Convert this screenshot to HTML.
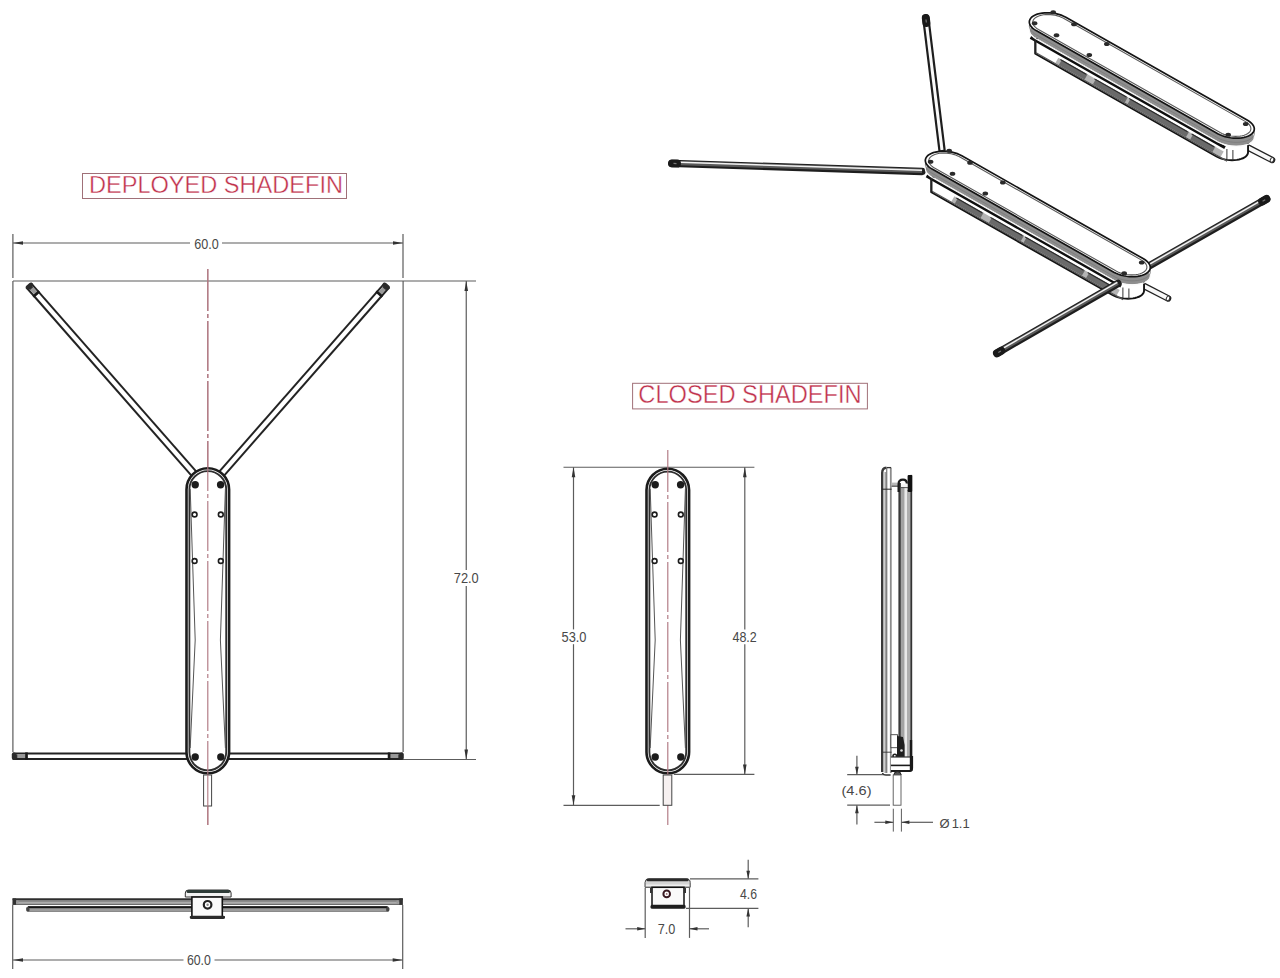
<!DOCTYPE html><html><head><meta charset="utf-8"><style>html,body{margin:0;padding:0;background:#fff;width:1280px;height:978px;overflow:hidden}svg{display:block}text{font-family:"Liberation Sans",sans-serif}</style></head><body>
<svg width="1280" height="978" viewBox="0 0 1280 978">
<rect width="1280" height="978" fill="#fff"/>
<rect x="82.5" y="173.5" width="264" height="25" fill="none" stroke="#a07078" stroke-width="1"/>
<text x="89.00" y="193.20" font-size="24.4" fill="#c0304a" text-anchor="start" textLength="254" lengthAdjust="spacingAndGlyphs" stroke="#fff" stroke-width="0.4">DEPLOYED SHADEFIN</text>
<rect x="632.6" y="383.3" width="234.8" height="25.6" fill="none" stroke="#a07078" stroke-width="1"/>
<text x="638.30" y="403.30" font-size="25.3" fill="#c0304a" text-anchor="start" textLength="223.4" lengthAdjust="spacingAndGlyphs" stroke="#fff" stroke-width="0.4">CLOSED SHADEFIN</text>
<line x1="12.90" y1="234.00" x2="12.90" y2="278.00" stroke="#5c5c5c" stroke-width="1.2" />
<line x1="403.00" y1="234.00" x2="403.00" y2="278.00" stroke="#5c5c5c" stroke-width="1.2" />
<line x1="13.00" y1="243.00" x2="190.00" y2="243.00" stroke="#5c5c5c" stroke-width="1.2" />
<line x1="222.00" y1="243.00" x2="403.00" y2="243.00" stroke="#5c5c5c" stroke-width="1.2" />
<path d="M13.00,243.00 L23.00,241.20 L23.00,244.80 Z" fill="#333"/>
<path d="M403.00,243.00 L393.00,244.80 L393.00,241.20 Z" fill="#333"/>
<text x="206.60" y="248.60" font-size="14.2" fill="#484848" text-anchor="middle" textLength="24.5" lengthAdjust="spacingAndGlyphs" >60.0</text>
<line x1="13.00" y1="281.00" x2="476.00" y2="281.00" stroke="#5c5c5c" stroke-width="1.2" />
<line x1="466.25" y1="281.00" x2="466.25" y2="570.00" stroke="#5c5c5c" stroke-width="1.2" />
<line x1="466.25" y1="586.00" x2="466.25" y2="759.50" stroke="#5c5c5c" stroke-width="1.2" />
<path d="M466.25,281.00 L468.05,291.00 L464.45,291.00 Z" fill="#333"/>
<path d="M466.25,759.50 L464.45,749.50 L468.05,749.50 Z" fill="#333"/>
<text x="466.25" y="582.60" font-size="14.2" fill="#484848" text-anchor="middle" textLength="25" lengthAdjust="spacingAndGlyphs" >72.0</text>
<line x1="403.00" y1="759.50" x2="476.00" y2="759.50" stroke="#5c5c5c" stroke-width="1.2" />
<line x1="12.90" y1="281.00" x2="12.90" y2="752.00" stroke="#5c5c5c" stroke-width="1.2" />
<line x1="403.10" y1="281.00" x2="403.10" y2="752.00" stroke="#5c5c5c" stroke-width="1.2" />
<line x1="28.60" y1="285.20" x2="196.00" y2="476.00" stroke="#232323" stroke-width="8.2" stroke-linecap="butt"/>
<line x1="28.60" y1="285.20" x2="196.00" y2="476.00" stroke="#fff" stroke-width="4.199999999999999" />
<line x1="28.60" y1="285.20" x2="37.17" y2="294.97" stroke="#9a9a9a" stroke-width="4.199999999999999" />
<line x1="29.39" y1="286.10" x2="31.57" y2="288.58" stroke="#333" stroke-width="4.199999999999999" />
<line x1="35.46" y1="293.02" x2="37.17" y2="294.97" stroke="#1a1a1a" stroke-width="8.2" />
<rect x="-1.00" y="-4.10" width="4.5" height="8.20" rx="2" ry="2" fill="#2a2a2a" transform="translate(28.60,285.20) rotate(48.74)"/>
<line x1="387.00" y1="285.20" x2="219.60" y2="476.00" stroke="#232323" stroke-width="8.2" stroke-linecap="butt"/>
<line x1="387.00" y1="285.20" x2="219.60" y2="476.00" stroke="#fff" stroke-width="4.199999999999999" />
<line x1="387.00" y1="285.20" x2="378.43" y2="294.97" stroke="#9a9a9a" stroke-width="4.199999999999999" />
<line x1="386.21" y1="286.10" x2="384.03" y2="288.58" stroke="#333" stroke-width="4.199999999999999" />
<line x1="380.14" y1="293.02" x2="378.43" y2="294.97" stroke="#1a1a1a" stroke-width="8.2" />
<rect x="-1.00" y="-4.10" width="4.5" height="8.20" rx="2" ry="2" fill="#2a2a2a" transform="translate(387.00,285.20) rotate(131.26)"/>
<line x1="12.80" y1="756.20" x2="190.00" y2="756.20" stroke="#232323" stroke-width="7.6" stroke-linecap="butt"/>
<line x1="12.80" y1="756.20" x2="190.00" y2="756.20" stroke="#fff" stroke-width="3.5999999999999996" />
<line x1="12.80" y1="756.20" x2="27.80" y2="756.20" stroke="#9a9a9a" stroke-width="3.5999999999999996" />
<line x1="14.00" y1="756.20" x2="17.30" y2="756.20" stroke="#333" stroke-width="3.5999999999999996" />
<line x1="25.20" y1="756.20" x2="27.80" y2="756.20" stroke="#1a1a1a" stroke-width="7.6" />
<rect x="-1.00" y="-3.80" width="4.5" height="7.60" rx="2" ry="2" fill="#2a2a2a" transform="translate(12.80,756.20) rotate(0.00)"/>
<line x1="402.80" y1="756.20" x2="226.00" y2="756.20" stroke="#232323" stroke-width="7.6" stroke-linecap="butt"/>
<line x1="402.80" y1="756.20" x2="226.00" y2="756.20" stroke="#fff" stroke-width="3.5999999999999996" />
<line x1="402.80" y1="756.20" x2="387.80" y2="756.20" stroke="#9a9a9a" stroke-width="3.5999999999999996" />
<line x1="401.60" y1="756.20" x2="398.30" y2="756.20" stroke="#333" stroke-width="3.5999999999999996" />
<line x1="390.40" y1="756.20" x2="387.80" y2="756.20" stroke="#1a1a1a" stroke-width="7.6" />
<rect x="-1.00" y="-3.80" width="4.5" height="7.60" rx="2" ry="2" fill="#2a2a2a" transform="translate(402.80,756.20) rotate(180.00)"/>
<line x1="207.8" y1="269" x2="207.8" y2="825" stroke="#b07882" stroke-width="1.15" stroke-dasharray="50,3,4,3" stroke-dashoffset="8"/>
<rect x="186.50" y="468.20" width="42.60" height="305.10" rx="21.30" ry="21.30" fill="#fff" stroke="#1c1c1c" stroke-width="2.6"/>
<rect x="189.40" y="471.10" width="36.80" height="299.30" rx="18.40" ry="18.40" fill="none" stroke="#2e2e2e" stroke-width="1.8"/>
<path d="M190.20,489.00 L195.20,640.00 L190.20,748.00" fill="none" stroke="#555" stroke-width="1"/>
<path d="M225.40,489.00 L220.40,640.00 L225.40,748.00" fill="none" stroke="#555" stroke-width="1"/>
<circle cx="195.20" cy="484.70" r="3.7" fill="#1c1c1c"/>
<circle cx="220.60" cy="484.70" r="3.7" fill="#1c1c1c"/>
<circle cx="195.20" cy="757.00" r="3.7" fill="#1c1c1c"/>
<circle cx="220.80" cy="757.00" r="3.7" fill="#1c1c1c"/>
<circle cx="194.60" cy="514.50" r="2.4" fill="#fff" stroke="#1c1c1c" stroke-width="1.6"/>
<circle cx="220.80" cy="514.50" r="2.4" fill="#fff" stroke="#1c1c1c" stroke-width="1.6"/>
<circle cx="194.60" cy="561.00" r="2.4" fill="#fff" stroke="#1c1c1c" stroke-width="1.6"/>
<circle cx="220.80" cy="561.00" r="2.4" fill="#fff" stroke="#1c1c1c" stroke-width="1.6"/>
<line x1="207.8" y1="269" x2="207.8" y2="775" stroke="#b07882" stroke-width="1.15" stroke-dasharray="50,3,4,3" stroke-dashoffset="8"/>
<rect x="203.6" y="775" width="8" height="31" fill="#fff" stroke="#444" stroke-width="1"/>
<line x1="207.80" y1="775.00" x2="207.80" y2="825.00" stroke="#b07882" stroke-width="1.1" />
<rect x="12.6" y="898.4" width="390.2" height="6.4" fill="#8c8c8c"/>
<rect x="12.6" y="898.4" width="390.2" height="1.7" fill="#2e2e2e"/>
<rect x="12.6" y="902.2" width="390.2" height="1.3" fill="#b4b4b4"/>
<rect x="12.6" y="904.0" width="390.2" height="0.9" fill="#666"/>
<rect x="12.6" y="898.4" width="3.5" height="6.4" fill="#333"/>
<rect x="399.3" y="898.4" width="3.5" height="6.4" fill="#333"/>
<rect x="16.5" y="900.5" width="2" height="3" fill="#999"/>
<rect x="396.5" y="900.5" width="2" height="3" fill="#999"/>
<rect x="26" y="906.2" width="363.6" height="5.8" rx="2.9" fill="#8a8a8a"/>
<rect x="28" y="906.2" width="359.6" height="1.9" fill="#151515"/>
<rect x="30" y="909.4" width="356" height="1.2" fill="#a8a8a8"/>
<rect x="26.4" y="907" width="3" height="4.6" rx="1.5" fill="#444"/>
<rect x="386.2" y="907" width="3" height="4.6" rx="1.5" fill="#444"/>
<path d="M185.3,897 L185.3,893 Q185.3,890 188.5,890 L228,890 Q231.1,890 231.1,893 L231.1,897 Z" fill="#f2f2f2" stroke="#333" stroke-width="1"/>
<rect x="186.5" y="890" width="43.5" height="3" rx="1.5" fill="#2e3c38"/>
<rect x="191.9" y="897" width="30.4" height="20" fill="#fafafa" stroke="#111" stroke-width="1.6"/>
<path d="M189.8,916.6 Q190.2,915.6 192.5,915.8 L222.5,915.8 Q225,915.6 225,916.6 L225,917.8 Q225,919 223,919 L191.8,919 Q189.8,919 189.8,917.8 Z" fill="#2a2a2a"/>
<circle cx="207.6" cy="904.8" r="3.8" fill="#fff" stroke="#222" stroke-width="2.2"/>
<circle cx="207.6" cy="904.8" r="1.2" fill="#888"/>
<line x1="12.70" y1="905.00" x2="12.70" y2="969.00" stroke="#5c5c5c" stroke-width="1.2" />
<line x1="402.70" y1="905.00" x2="402.70" y2="969.00" stroke="#5c5c5c" stroke-width="1.2" />
<line x1="13.00" y1="960.00" x2="183.50" y2="960.00" stroke="#5c5c5c" stroke-width="1.2" />
<line x1="214.50" y1="960.00" x2="402.70" y2="960.00" stroke="#5c5c5c" stroke-width="1.2" />
<path d="M13.00,960.00 L23.00,958.20 L23.00,961.80 Z" fill="#333"/>
<path d="M402.70,960.00 L392.70,961.80 L392.70,958.20 Z" fill="#333"/>
<text x="198.90" y="964.60" font-size="14.2" fill="#484848" text-anchor="middle" textLength="24" lengthAdjust="spacingAndGlyphs" >60.0</text>
<line x1="563.50" y1="467.25" x2="754.40" y2="467.25" stroke="#5c5c5c" stroke-width="1.2" />
<line x1="673.80" y1="774.40" x2="754.40" y2="774.40" stroke="#5c5c5c" stroke-width="1.2" />
<line x1="563.50" y1="805.30" x2="659.70" y2="805.30" stroke="#5c5c5c" stroke-width="1.2" />
<line x1="573.50" y1="467.25" x2="573.50" y2="629.40" stroke="#5c5c5c" stroke-width="1.2" />
<line x1="573.50" y1="644.20" x2="573.50" y2="805.30" stroke="#5c5c5c" stroke-width="1.2" />
<path d="M573.50,467.25 L575.30,477.25 L571.70,477.25 Z" fill="#333"/>
<path d="M573.50,805.30 L571.70,795.30 L575.30,795.30 Z" fill="#333"/>
<text x="574.00" y="641.90" font-size="14.2" fill="#484848" text-anchor="middle" textLength="25" lengthAdjust="spacingAndGlyphs" >53.0</text>
<line x1="744.80" y1="467.25" x2="744.80" y2="629.40" stroke="#5c5c5c" stroke-width="1.2" />
<line x1="744.80" y1="644.20" x2="744.80" y2="774.40" stroke="#5c5c5c" stroke-width="1.2" />
<path d="M744.80,467.25 L746.60,477.25 L743.00,477.25 Z" fill="#333"/>
<path d="M744.80,774.40 L743.00,764.40 L746.60,764.40 Z" fill="#333"/>
<text x="744.60" y="641.90" font-size="14.2" fill="#484848" text-anchor="middle" textLength="24.3" lengthAdjust="spacingAndGlyphs" >48.2</text>
<rect x="646.50" y="468.80" width="42.60" height="304.50" rx="21.30" ry="21.30" fill="#fff" stroke="#1c1c1c" stroke-width="2.6"/>
<rect x="649.40" y="471.70" width="36.80" height="298.70" rx="18.40" ry="18.40" fill="none" stroke="#2e2e2e" stroke-width="1.8"/>
<path d="M650.20,489.00 L655.20,640.00 L650.20,748.00" fill="none" stroke="#555" stroke-width="1"/>
<path d="M685.40,489.00 L680.40,640.00 L685.40,748.00" fill="none" stroke="#555" stroke-width="1"/>
<circle cx="655.20" cy="484.70" r="3.7" fill="#1c1c1c"/>
<circle cx="680.60" cy="484.70" r="3.7" fill="#1c1c1c"/>
<circle cx="655.20" cy="757.00" r="3.7" fill="#1c1c1c"/>
<circle cx="680.80" cy="757.00" r="3.7" fill="#1c1c1c"/>
<circle cx="654.60" cy="514.50" r="2.4" fill="#fff" stroke="#1c1c1c" stroke-width="1.6"/>
<circle cx="680.80" cy="514.50" r="2.4" fill="#fff" stroke="#1c1c1c" stroke-width="1.6"/>
<circle cx="654.60" cy="561.00" r="2.4" fill="#fff" stroke="#1c1c1c" stroke-width="1.6"/>
<circle cx="680.80" cy="561.00" r="2.4" fill="#fff" stroke="#1c1c1c" stroke-width="1.6"/>
<line x1="667.8" y1="450" x2="667.8" y2="825" stroke="#b07882" stroke-width="1.15" stroke-dasharray="50,3,4,3" stroke-dashoffset="8"/>
<rect x="663.2" y="775" width="8.6" height="30.3" fill="#f6f0f0" stroke="#444" stroke-width="1"/>
<path d="M882.2,772 L882.2,472.5 Q882.2,467.2 887.5,467.2 L891.6,467.2 L891.6,772 Q891.6,774.6 889,774.6 L885,774.6 Q882.2,774.6 882.2,772 Z" fill="#fff"/>
<path d="M882.2,772 L882.2,473 Q882.2,468 886.4,467.8" fill="none" stroke="#3a3a3a" stroke-width="2.4"/>
<rect x="884.5" y="472" width="1.7" height="301" fill="#a0a0a0"/>
<rect x="886.2" y="468" width="1.1" height="305" fill="#666"/>
<rect x="889.9" y="468" width="1.8" height="305" fill="#8c8c8c"/>
<path d="M886.5,467.6 L891.2,467.6" stroke="#333" stroke-width="1.3"/>
<path d="M882.4,773 Q883,775 886,775 L890.6,775" fill="none" stroke="#333" stroke-width="1.4"/>
<line x1="882.20" y1="489.20" x2="891.60" y2="489.20" stroke="#222" stroke-width="1.0" />
<line x1="882.20" y1="752.20" x2="891.60" y2="752.20" stroke="#333" stroke-width="0.9" />
<rect x="891.6" y="482.6" width="7" height="3.6" fill="#b8b8b8"/>
<line x1="891.60" y1="486.20" x2="898.60" y2="486.20" stroke="#333" stroke-width="1.0" />
<rect x="898.4" y="480" width="13.8" height="291" fill="#fff"/>
<rect x="898.4" y="483" width="2.5" height="288" fill="#3a3a3a"/>
<rect x="900.9" y="487" width="3.8" height="284" fill="#a2a2a2"/>
<rect x="904.7" y="487" width="2.3" height="284" fill="#e8e8e8"/>
<rect x="907.0" y="490" width="3.3" height="281" fill="#aeaeae"/>
<rect x="910.3" y="474.9" width="1.9" height="296" fill="#333"/>
<rect x="907.6" y="474.9" width="4.6" height="17" rx="1" fill="#111"/>
<path d="M898.6,492 L898.6,484 Q898.6,479.6 903,479.6 Q906.8,479.6 906.8,483.5" fill="none" stroke="#1a1a1a" stroke-width="2.2"/>
<rect x="901.2" y="484.2" width="6.2" height="3" fill="#f4f4f4"/>
<line x1="900.50" y1="487.60" x2="908.00" y2="487.60" stroke="#444" stroke-width="0.9" />
<rect x="890.9" y="734.7" width="6.6" height="13" fill="#fff" stroke="#444" stroke-width="0.9"/>
<path d="M897,736 L903,737 L904.6,745 L904.6,757 L897,757 Z" fill="#1e1e1e"/>
<circle cx="901.5" cy="750.5" r="1.3" fill="#ddd"/>
<circle cx="894.8" cy="756" r="1.8" fill="#fff" stroke="#222" stroke-width="1.6"/>
<rect x="890.9" y="757" width="20.8" height="14" fill="#fff"/>
<path d="M890.9,757 L911.7,757" stroke="#333" stroke-width="1.2"/>
<path d="M890.9,765.4 L911.7,765.4" stroke="#1a1a1a" stroke-width="1.6"/>
<path d="M890.9,771 L910,771 Q912,771 912,768 L912,756" fill="none" stroke="#1a1a1a" stroke-width="2.2"/>
<rect x="909.8" y="740" width="2.4" height="31" fill="#1a1a1a"/>
<path d="M893.8,775 Q894,771.6 897.5,771.6 Q901,771.6 901.2,775" fill="#555" stroke="#222" stroke-width="1"/>
<rect x="893.2" y="775" width="7.8" height="30.2" fill="#fff" stroke="#555" stroke-width="0.9"/>
<line x1="847.20" y1="774.70" x2="883.00" y2="774.70" stroke="#5c5c5c" stroke-width="1.2" />
<line x1="847.20" y1="805.20" x2="890.00" y2="805.20" stroke="#5c5c5c" stroke-width="1.2" />
<line x1="856.90" y1="755.80" x2="856.90" y2="774.70" stroke="#5c5c5c" stroke-width="1.2" />
<path d="M856.90,774.70 L855.10,766.70 L858.70,766.70 Z" fill="#333"/>
<line x1="856.90" y1="805.20" x2="856.90" y2="824.50" stroke="#5c5c5c" stroke-width="1.2" />
<path d="M856.90,805.20 L858.70,813.20 L855.10,813.20 Z" fill="#333"/>
<text x="856.50" y="795.20" font-size="13" fill="#484848" text-anchor="middle" textLength="30" lengthAdjust="spacingAndGlyphs" >(4.6)</text>
<line x1="893.30" y1="808.70" x2="893.30" y2="831.60" stroke="#5c5c5c" stroke-width="1" />
<line x1="901.40" y1="808.70" x2="901.40" y2="831.60" stroke="#5c5c5c" stroke-width="1" />
<line x1="874.40" y1="822.30" x2="893.30" y2="822.30" stroke="#5c5c5c" stroke-width="1.2" />
<path d="M893.30,822.30 L885.30,824.10 L885.30,820.50 Z" fill="#333"/>
<line x1="901.40" y1="822.30" x2="933.00" y2="822.30" stroke="#5c5c5c" stroke-width="1.2" />
<path d="M901.40,822.30 L909.40,820.50 L909.40,824.10 Z" fill="#333"/>
<text x="939.5" y="827.5" font-size="13" fill="#484848">&#216;<tspan dx="2">1.1</tspan></text>
<path d="M645,887.3 L645,882.5 Q645,878.8 649,878.8 L686,878.8 Q690.2,878.8 690.2,882.5 L690.2,887.3 Z" fill="#d4d4d4" stroke="#444" stroke-width="1"/>
<rect x="646.5" y="878.6" width="42.2" height="2.6" rx="1.3" fill="#2a2a2a"/>
<rect x="646" y="884.6" width="43.2" height="1.2" fill="#f4f4f4"/>
<rect x="652" y="887.3" width="32" height="20" fill="#fafafa" stroke="#111" stroke-width="1.5"/>
<path d="M650.5,906 Q651,904.6 653,904.8 L683,904.8 Q685.6,904.6 685.6,906 L685.6,907.6 Q685.6,908.8 683.5,908.8 L652.5,908.8 Q650.5,908.8 650.5,907.6 Z" fill="#1e1e1e"/>
<rect x="650" y="888" width="2.4" height="5" fill="#333"/>
<rect x="683.6" y="888" width="2.4" height="5" fill="#333"/>
<circle cx="666.7" cy="893.9" r="3.3" fill="#fff" stroke="#3a1a22" stroke-width="2.0"/>
<circle cx="666.7" cy="893.9" r="0.9" fill="#9a6a70"/>
<line x1="690.00" y1="878.80" x2="758.40" y2="878.80" stroke="#5c5c5c" stroke-width="1.2" />
<line x1="686.00" y1="908.40" x2="758.40" y2="908.40" stroke="#5c5c5c" stroke-width="1.2" />
<line x1="748.20" y1="859.80" x2="748.20" y2="878.80" stroke="#5c5c5c" stroke-width="1.2" />
<path d="M748.20,878.80 L746.40,870.80 L750.00,870.80 Z" fill="#333"/>
<line x1="748.20" y1="908.40" x2="748.20" y2="927.30" stroke="#5c5c5c" stroke-width="1.2" />
<path d="M748.20,908.40 L750.00,916.40 L746.40,916.40 Z" fill="#333"/>
<text x="748.50" y="898.50" font-size="14.2" fill="#484848" text-anchor="middle" textLength="17" lengthAdjust="spacingAndGlyphs" >4.6</text>
<line x1="645.20" y1="888.00" x2="645.20" y2="937.90" stroke="#5c5c5c" stroke-width="1.2" />
<line x1="689.50" y1="888.00" x2="689.50" y2="937.90" stroke="#5c5c5c" stroke-width="1.2" />
<line x1="625.50" y1="928.80" x2="645.20" y2="928.80" stroke="#5c5c5c" stroke-width="1.2" />
<path d="M645.20,928.80 L637.20,930.60 L637.20,927.00 Z" fill="#333"/>
<line x1="689.50" y1="928.80" x2="709.00" y2="928.80" stroke="#5c5c5c" stroke-width="1.2" />
<path d="M689.50,928.80 L697.50,927.00 L697.50,930.60 Z" fill="#333"/>
<text x="666.60" y="933.70" font-size="14" fill="#484848" text-anchor="middle" textLength="17.6" lengthAdjust="spacingAndGlyphs" >7.0</text>
<line x1="942.00" y1="150.00" x2="925.80" y2="18.00" stroke="#1e1e1e" stroke-width="7.4" stroke-linecap="round"/>
<line x1="942.00" y1="150.00" x2="925.80" y2="18.00" stroke="#fafafa" stroke-width="3.0" />
<line x1="926.41" y1="22.96" x2="925.80" y2="18.00" stroke="#1a1a1a" stroke-width="8.0" stroke-linecap="round"/>
<line x1="926.35" y1="22.47" x2="925.98" y2="19.49" stroke="#777" stroke-width="1.2" />
<line x1="922.00" y1="171.50" x2="672.00" y2="163.40" stroke="#1e1e1e" stroke-width="7.4" stroke-linecap="round"/>
<line x1="922.02" y1="170.90" x2="672.02" y2="162.80" stroke="#5a5a5a" stroke-width="4.2" />
<line x1="922.04" y1="170.20" x2="672.04" y2="162.10" stroke="#f2f2f2" stroke-width="1.5" />
<line x1="677.00" y1="163.56" x2="672.00" y2="163.40" stroke="#1a1a1a" stroke-width="8.0" stroke-linecap="round"/>
<line x1="676.50" y1="163.55" x2="673.50" y2="163.45" stroke="#777" stroke-width="1.2" />
<line x1="1142.00" y1="270.00" x2="1266.50" y2="199.00" stroke="#1e1e1e" stroke-width="7.4" stroke-linecap="round"/>
<line x1="1141.70" y1="269.48" x2="1266.20" y2="198.48" stroke="#5a5a5a" stroke-width="4.2" />
<line x1="1141.36" y1="268.87" x2="1265.86" y2="197.87" stroke="#f2f2f2" stroke-width="1.5" />
<line x1="1262.16" y1="201.48" x2="1266.50" y2="199.00" stroke="#1a1a1a" stroke-width="8.0" stroke-linecap="round"/>
<line x1="1262.59" y1="201.23" x2="1265.20" y2="199.74" stroke="#777" stroke-width="1.2" />
<line x1="1141.00" y1="284.50" x2="1168.00" y2="298.40" stroke="#222" stroke-width="6.6" stroke-linecap="round"/>
<line x1="1141.00" y1="284.50" x2="1168.00" y2="298.40" stroke="#f8f8f8" stroke-width="4.0" />
<ellipse cx="1168.00" cy="298.40" rx="1.6" ry="2.4" transform="rotate(27 1168.00 298.40)" fill="#fff" stroke="#333" stroke-width="1"/>
<path d="M931.35,177.80 L957.44,166.06 L1138.04,268.51 L1139.74,269.59 L1141.19,270.75 L1142.36,271.97 L1143.24,273.24 L1143.80,274.52 L1144.04,275.80 L1144.04,290.30 L1143.96,291.56 L1143.55,292.77 L1142.82,293.92 L1141.79,294.97 L1140.47,295.93 L1138.89,296.76 L1137.06,297.46 L1135.04,298.01 L1132.84,298.41 L1130.50,298.64 L1128.07,298.70 L1125.59,298.60 L1123.10,298.33 L1120.64,297.90 L1118.26,297.32 L1115.99,296.59 L1113.87,295.73 L1111.95,294.75 L931.35,192.30 Z" fill="#fff" stroke="#141414" stroke-width="1.9"/>
<line x1="952.88" y1="198.92" x2="1118.20" y2="292.70" stroke="#b4b4b4" stroke-width="6.0" />
<line x1="956.35" y1="200.89" x2="982.05" y2="215.47" stroke="#6a6a6a" stroke-width="6.0" />
<line x1="956.35" y1="198.09" x2="982.05" y2="212.67" stroke="#2a2a2a" stroke-width="1.1" />
<line x1="990.39" y1="220.19" x2="1022.34" y2="238.32" stroke="#6a6a6a" stroke-width="6.0" />
<line x1="990.39" y1="217.39" x2="1022.34" y2="235.52" stroke="#2a2a2a" stroke-width="1.1" />
<line x1="1025.12" y1="239.90" x2="1083.47" y2="272.99" stroke="#6a6a6a" stroke-width="6.0" />
<line x1="1025.12" y1="237.10" x2="1083.47" y2="270.19" stroke="#2a2a2a" stroke-width="1.1" />
<line x1="1087.64" y1="275.36" x2="1109.86" y2="287.97" stroke="#6a6a6a" stroke-width="6.0" />
<line x1="1087.64" y1="272.56" x2="1109.86" y2="285.17" stroke="#2a2a2a" stroke-width="1.1" />
<line x1="932.04" y1="191.30" x2="1123.06" y2="299.65" stroke="#555" stroke-width="1.3" />
<line x1="926.48" y1="175.84" x2="1120.98" y2="286.17" stroke="#0e0e0e" stroke-width="3.0" />
<line x1="1122.90" y1="287.50" x2="1122.90" y2="298.00" stroke="#333" stroke-width="1.0" />
<line x1="1128.90" y1="288.50" x2="1128.90" y2="299.00" stroke="#333" stroke-width="1.0" />
<line x1="931.35" y1="177.80" x2="931.35" y2="192.30" stroke="#222" stroke-width="1.8" />
<path d="M925.33,160.82 L925.43,159.39 L925.89,158.01 L926.72,156.71 L927.89,155.51 L929.39,154.42 L931.20,153.47 L933.27,152.68 L935.57,152.05 L938.08,151.60 L940.73,151.34 L943.49,151.26 L946.32,151.38 L949.15,151.69 L951.95,152.18 L954.66,152.84 L957.24,153.67 L959.65,154.65 L961.84,155.76 L1143.48,258.80 L1145.42,260.03 L1147.06,261.35 L1148.40,262.74 L1149.39,264.18 L1150.03,265.64 L1150.31,267.10 L1150.31,274.60 L1150.21,276.03 L1149.75,277.40 L1148.92,278.70 L1147.75,279.91 L1146.24,280.99 L1144.44,281.94 L1142.37,282.74 L1140.06,283.36 L1137.56,283.81 L1134.91,284.08 L1132.14,284.15 L1129.32,284.04 L1126.49,283.73 L1123.69,283.24 L1120.98,282.58 L1118.40,281.75 L1115.99,280.77 L1113.80,279.65 L932.16,176.61 L930.22,175.39 L928.57,174.07 L927.24,172.68 L926.24,171.24 L925.60,169.78 L925.33,168.32 Z" fill="#8e8e8e" stroke="none"/>
<path d="M932.16,177.41 L930.22,176.19 L928.57,174.87 L927.24,173.48 L926.24,172.04 L925.60,170.58 L925.33,169.12 L925.43,167.69 L925.89,166.31 L926.72,165.01 L927.89,163.81 L929.39,162.72 L931.20,161.78 L933.27,160.98 L935.57,160.35 L938.08,159.90 L940.73,159.64 L943.49,159.56 L946.32,159.68 L949.15,159.99 L951.95,160.48 L954.66,161.14 L957.24,161.97 L959.65,162.95 L961.84,164.06 L1143.48,267.10 L1145.42,268.33 L1147.06,269.65 L1148.40,271.04 L1149.39,272.48 L1150.03,273.94 L1150.31,275.40 L1150.21,276.83 L1149.75,278.20 L1148.92,279.50 L1147.75,280.71 L1146.24,281.79 L1144.44,282.74 L1142.37,283.54 L1140.06,284.16 L1137.56,284.61 L1134.91,284.88 L1132.14,284.95 L1129.32,284.84 L1126.49,284.53 L1123.69,284.04 L1120.98,283.38 L1118.40,282.55 L1115.99,281.57 L1113.80,280.45 Z" fill="none" stroke="#fafafa" stroke-width="1.2"/>
<path d="M932.16,173.31 L930.22,172.09 L928.57,170.77 L927.24,169.38 L926.24,167.94 L925.60,166.48 L925.33,165.02 L925.43,163.59 L925.89,162.21 L926.72,160.91 L927.89,159.71 L929.39,158.62 L931.20,157.67 L933.27,156.88 L935.57,156.25 L938.08,155.80 L940.73,155.54 L943.49,155.46 L946.32,155.58 L949.15,155.89 L951.95,156.38 L954.66,157.04 L957.24,157.87 L959.65,158.85 L961.84,159.96 L1143.48,263.00 L1145.42,264.23 L1147.06,265.55 L1148.40,266.94 L1149.39,268.38 L1150.03,269.84 L1150.31,271.30 L1150.21,272.73 L1149.75,274.10 L1148.92,275.40 L1147.75,276.61 L1146.24,277.69 L1144.44,278.64 L1142.37,279.44 L1140.06,280.06 L1137.56,280.51 L1134.91,280.78 L1132.14,280.85 L1129.32,280.74 L1126.49,280.43 L1123.69,279.94 L1120.98,279.28 L1118.40,278.45 L1115.99,277.47 L1113.80,276.35 Z" fill="none" stroke="#777" stroke-width="0.7"/>
<path d="M932.16,169.11 L930.22,167.89 L928.57,166.57 L927.24,165.18 L926.24,163.74 L925.60,162.28 L925.33,160.82 L925.43,159.39 L925.89,158.01 L926.72,156.71 L927.89,155.51 L929.39,154.42 L931.20,153.47 L933.27,152.68 L935.57,152.05 L938.08,151.60 L940.73,151.34 L943.49,151.26 L946.32,151.38 L949.15,151.69 L951.95,152.18 L954.66,152.84 L957.24,153.67 L959.65,154.65 L961.84,155.76 L1143.48,258.80 L1145.42,260.03 L1147.06,261.35 L1148.40,262.74 L1149.39,264.18 L1150.03,265.64 L1150.31,267.10 L1150.21,268.53 L1149.75,269.90 L1148.92,271.20 L1147.75,272.41 L1146.24,273.49 L1144.44,274.44 L1142.37,275.24 L1140.06,275.86 L1137.56,276.31 L1134.91,276.58 L1132.14,276.65 L1129.32,276.54 L1126.49,276.23 L1123.69,275.74 L1120.98,275.08 L1118.40,274.25 L1115.99,273.27 L1113.80,272.15 Z" fill="#fff" stroke="#141414" stroke-width="1.7"/>
<path d="M934.51,168.06 L932.88,167.03 L931.49,165.91 L930.37,164.74 L929.53,163.53 L928.99,162.30 L928.76,161.08 L928.84,159.87 L929.23,158.71 L929.93,157.62 L930.92,156.60 L932.18,155.69 L933.70,154.89 L935.44,154.22 L937.38,153.70 L939.49,153.32 L941.72,153.09 L944.05,153.03 L946.42,153.13 L948.81,153.39 L951.16,153.80 L953.45,154.36 L955.62,155.06 L957.65,155.88 L959.49,156.82 L1141.13,259.86 L1142.76,260.89 L1144.15,262.00 L1145.27,263.17 L1146.11,264.38 L1146.65,265.61 L1146.88,266.84 L1146.80,268.04 L1146.41,269.20 L1145.71,270.30 L1144.72,271.31 L1143.46,272.23 L1141.94,273.02 L1140.20,273.69 L1138.26,274.22 L1136.15,274.60 L1133.91,274.82 L1131.59,274.88 L1129.21,274.79 L1126.83,274.53 L1124.47,274.12 L1122.19,273.56 L1120.02,272.86 L1117.99,272.03 L1116.15,271.10 Z" fill="none" stroke="#5a5a5a" stroke-width="1.1"/>
<ellipse cx="949.20" cy="150.80" rx="2.8" ry="2.0" fill="#2a2a2a"/>
<ellipse cx="930.60" cy="161.70" rx="2.8" ry="2.0" fill="#2a2a2a"/>
<ellipse cx="970.00" cy="162.80" rx="2.8" ry="2.0" fill="#2a2a2a"/>
<ellipse cx="952.50" cy="173.75" rx="2.8" ry="2.0" fill="#2a2a2a"/>
<ellipse cx="1002.80" cy="182.50" rx="2.8" ry="2.0" fill="#2a2a2a"/>
<ellipse cx="985.30" cy="193.40" rx="2.8" ry="2.0" fill="#2a2a2a"/>
<ellipse cx="1141.70" cy="262.40" rx="2.8" ry="2.0" fill="#2a2a2a"/>
<ellipse cx="1124.20" cy="273.30" rx="2.8" ry="2.0" fill="#2a2a2a"/>
<line x1="1118.00" y1="283.50" x2="997.00" y2="353.20" stroke="#1e1e1e" stroke-width="7.4" stroke-linecap="round"/>
<line x1="1117.70" y1="282.98" x2="996.70" y2="352.68" stroke="#5a5a5a" stroke-width="4.2" />
<line x1="1117.35" y1="282.37" x2="996.35" y2="352.07" stroke="#f2f2f2" stroke-width="1.5" />
<line x1="1001.33" y1="350.70" x2="997.00" y2="353.20" stroke="#1a1a1a" stroke-width="8.0" stroke-linecap="round"/>
<line x1="1000.90" y1="350.95" x2="998.30" y2="352.45" stroke="#777" stroke-width="1.2" />
<line x1="1245.00" y1="146.00" x2="1272.00" y2="159.90" stroke="#222" stroke-width="6.6" stroke-linecap="round"/>
<line x1="1245.00" y1="146.00" x2="1272.00" y2="159.90" stroke="#f8f8f8" stroke-width="4.0" />
<ellipse cx="1272.00" cy="159.90" rx="1.6" ry="2.4" transform="rotate(27 1272.00 159.90)" fill="#fff" stroke="#333" stroke-width="1"/>
<path d="M1035.35,39.30 L1061.44,27.57 L1242.04,130.01 L1243.74,131.09 L1245.19,132.25 L1246.36,133.47 L1247.24,134.74 L1247.80,136.02 L1248.04,137.30 L1248.04,151.80 L1247.96,153.06 L1247.55,154.27 L1246.82,155.41 L1245.79,156.47 L1244.47,157.43 L1242.89,158.26 L1241.06,158.96 L1239.04,159.51 L1236.84,159.91 L1234.50,160.14 L1232.07,160.21 L1229.59,160.10 L1227.10,159.83 L1224.64,159.40 L1222.26,158.82 L1219.99,158.09 L1217.87,157.23 L1215.95,156.25 L1035.35,53.80 Z" fill="#fff" stroke="#141414" stroke-width="1.9"/>
<line x1="1056.88" y1="60.42" x2="1222.20" y2="154.20" stroke="#b4b4b4" stroke-width="6.0" />
<line x1="1060.35" y1="62.39" x2="1086.05" y2="76.97" stroke="#6a6a6a" stroke-width="6.0" />
<line x1="1060.35" y1="59.59" x2="1086.05" y2="74.17" stroke="#2a2a2a" stroke-width="1.1" />
<line x1="1094.39" y1="81.69" x2="1126.34" y2="99.82" stroke="#6a6a6a" stroke-width="6.0" />
<line x1="1094.39" y1="78.89" x2="1126.34" y2="97.02" stroke="#2a2a2a" stroke-width="1.1" />
<line x1="1129.12" y1="101.40" x2="1187.47" y2="134.49" stroke="#6a6a6a" stroke-width="6.0" />
<line x1="1129.12" y1="98.60" x2="1187.47" y2="131.69" stroke="#2a2a2a" stroke-width="1.1" />
<line x1="1191.64" y1="136.86" x2="1213.86" y2="149.47" stroke="#6a6a6a" stroke-width="6.0" />
<line x1="1191.64" y1="134.06" x2="1213.86" y2="146.67" stroke="#2a2a2a" stroke-width="1.1" />
<line x1="1036.04" y1="52.80" x2="1227.06" y2="161.15" stroke="#555" stroke-width="1.3" />
<line x1="1030.48" y1="37.34" x2="1224.98" y2="147.67" stroke="#0e0e0e" stroke-width="3.0" />
<line x1="1226.90" y1="149.00" x2="1226.90" y2="159.50" stroke="#333" stroke-width="1.0" />
<line x1="1232.90" y1="150.00" x2="1232.90" y2="160.50" stroke="#333" stroke-width="1.0" />
<line x1="1035.35" y1="39.30" x2="1035.35" y2="53.80" stroke="#222" stroke-width="1.8" />
<path d="M1029.33,22.32 L1029.43,20.89 L1029.89,19.51 L1030.72,18.21 L1031.89,17.01 L1033.39,15.92 L1035.20,14.97 L1037.27,14.18 L1039.57,13.55 L1042.08,13.10 L1044.73,12.84 L1047.49,12.76 L1050.32,12.88 L1053.15,13.19 L1055.95,13.68 L1058.66,14.34 L1061.24,15.17 L1063.65,16.15 L1065.84,17.26 L1247.48,120.30 L1249.42,121.53 L1251.06,122.85 L1252.40,124.24 L1253.39,125.68 L1254.03,127.14 L1254.31,128.60 L1254.31,136.10 L1254.21,137.53 L1253.75,138.90 L1252.92,140.20 L1251.75,141.41 L1250.24,142.49 L1248.44,143.44 L1246.37,144.24 L1244.06,144.86 L1241.56,145.31 L1238.91,145.58 L1236.14,145.65 L1233.32,145.54 L1230.49,145.23 L1227.69,144.74 L1224.98,144.08 L1222.40,143.25 L1219.99,142.27 L1217.80,141.15 L1036.16,38.11 L1034.22,36.89 L1032.57,35.57 L1031.24,34.18 L1030.24,32.74 L1029.60,31.28 L1029.33,29.82 Z" fill="#8e8e8e" stroke="none"/>
<path d="M1036.16,38.91 L1034.22,37.69 L1032.57,36.37 L1031.24,34.98 L1030.24,33.54 L1029.60,32.08 L1029.33,30.62 L1029.43,29.19 L1029.89,27.81 L1030.72,26.51 L1031.89,25.31 L1033.39,24.22 L1035.20,23.27 L1037.27,22.48 L1039.57,21.85 L1042.08,21.40 L1044.73,21.14 L1047.49,21.06 L1050.32,21.18 L1053.15,21.49 L1055.95,21.98 L1058.66,22.64 L1061.24,23.47 L1063.65,24.45 L1065.84,25.56 L1247.48,128.60 L1249.42,129.83 L1251.06,131.15 L1252.40,132.54 L1253.39,133.98 L1254.03,135.44 L1254.31,136.90 L1254.21,138.33 L1253.75,139.70 L1252.92,141.00 L1251.75,142.21 L1250.24,143.29 L1248.44,144.24 L1246.37,145.04 L1244.06,145.66 L1241.56,146.11 L1238.91,146.38 L1236.14,146.45 L1233.32,146.34 L1230.49,146.03 L1227.69,145.54 L1224.98,144.88 L1222.40,144.05 L1219.99,143.07 L1217.80,141.95 Z" fill="none" stroke="#fafafa" stroke-width="1.2"/>
<path d="M1036.16,34.81 L1034.22,33.59 L1032.57,32.27 L1031.24,30.88 L1030.24,29.44 L1029.60,27.98 L1029.33,26.52 L1029.43,25.09 L1029.89,23.71 L1030.72,22.41 L1031.89,21.21 L1033.39,20.12 L1035.20,19.17 L1037.27,18.38 L1039.57,17.75 L1042.08,17.30 L1044.73,17.04 L1047.49,16.96 L1050.32,17.08 L1053.15,17.39 L1055.95,17.88 L1058.66,18.54 L1061.24,19.37 L1063.65,20.35 L1065.84,21.46 L1247.48,124.50 L1249.42,125.73 L1251.06,127.05 L1252.40,128.44 L1253.39,129.88 L1254.03,131.34 L1254.31,132.80 L1254.21,134.23 L1253.75,135.60 L1252.92,136.90 L1251.75,138.11 L1250.24,139.19 L1248.44,140.14 L1246.37,140.94 L1244.06,141.56 L1241.56,142.01 L1238.91,142.28 L1236.14,142.35 L1233.32,142.24 L1230.49,141.93 L1227.69,141.44 L1224.98,140.78 L1222.40,139.95 L1219.99,138.97 L1217.80,137.85 Z" fill="none" stroke="#777" stroke-width="0.7"/>
<path d="M1036.16,30.61 L1034.22,29.39 L1032.57,28.07 L1031.24,26.68 L1030.24,25.24 L1029.60,23.78 L1029.33,22.32 L1029.43,20.89 L1029.89,19.51 L1030.72,18.21 L1031.89,17.01 L1033.39,15.92 L1035.20,14.97 L1037.27,14.18 L1039.57,13.55 L1042.08,13.10 L1044.73,12.84 L1047.49,12.76 L1050.32,12.88 L1053.15,13.19 L1055.95,13.68 L1058.66,14.34 L1061.24,15.17 L1063.65,16.15 L1065.84,17.26 L1247.48,120.30 L1249.42,121.53 L1251.06,122.85 L1252.40,124.24 L1253.39,125.68 L1254.03,127.14 L1254.31,128.60 L1254.21,130.03 L1253.75,131.40 L1252.92,132.70 L1251.75,133.91 L1250.24,134.99 L1248.44,135.94 L1246.37,136.74 L1244.06,137.36 L1241.56,137.81 L1238.91,138.08 L1236.14,138.15 L1233.32,138.04 L1230.49,137.73 L1227.69,137.24 L1224.98,136.58 L1222.40,135.75 L1219.99,134.77 L1217.80,133.65 Z" fill="#fff" stroke="#141414" stroke-width="1.7"/>
<path d="M1038.51,29.56 L1036.88,28.53 L1035.49,27.41 L1034.37,26.24 L1033.53,25.03 L1032.99,23.80 L1032.76,22.58 L1032.84,21.37 L1033.23,20.21 L1033.93,19.12 L1034.92,18.10 L1036.18,17.19 L1037.70,16.39 L1039.44,15.72 L1041.38,15.20 L1043.49,14.82 L1045.72,14.59 L1048.05,14.53 L1050.42,14.63 L1052.81,14.89 L1055.16,15.30 L1057.45,15.86 L1059.62,16.56 L1061.65,17.38 L1063.49,18.32 L1245.13,121.36 L1246.76,122.39 L1248.15,123.50 L1249.27,124.67 L1250.11,125.88 L1250.65,127.11 L1250.88,128.34 L1250.80,129.54 L1250.41,130.70 L1249.71,131.80 L1248.72,132.81 L1247.46,133.73 L1245.94,134.52 L1244.20,135.19 L1242.26,135.72 L1240.15,136.10 L1237.91,136.32 L1235.59,136.38 L1233.21,136.29 L1230.83,136.03 L1228.47,135.62 L1226.19,135.06 L1224.02,134.36 L1221.99,133.53 L1220.15,132.60 Z" fill="none" stroke="#5a5a5a" stroke-width="1.1"/>
<ellipse cx="1053.20" cy="12.30" rx="2.8" ry="2.0" fill="#2a2a2a"/>
<ellipse cx="1034.60" cy="23.20" rx="2.8" ry="2.0" fill="#2a2a2a"/>
<ellipse cx="1074.00" cy="24.30" rx="2.8" ry="2.0" fill="#2a2a2a"/>
<ellipse cx="1056.50" cy="35.25" rx="2.8" ry="2.0" fill="#2a2a2a"/>
<ellipse cx="1106.80" cy="44.00" rx="2.8" ry="2.0" fill="#2a2a2a"/>
<ellipse cx="1089.30" cy="54.90" rx="2.8" ry="2.0" fill="#2a2a2a"/>
<ellipse cx="1245.70" cy="123.90" rx="2.8" ry="2.0" fill="#2a2a2a"/>
<ellipse cx="1228.20" cy="134.80" rx="2.8" ry="2.0" fill="#2a2a2a"/>
</svg></body></html>
